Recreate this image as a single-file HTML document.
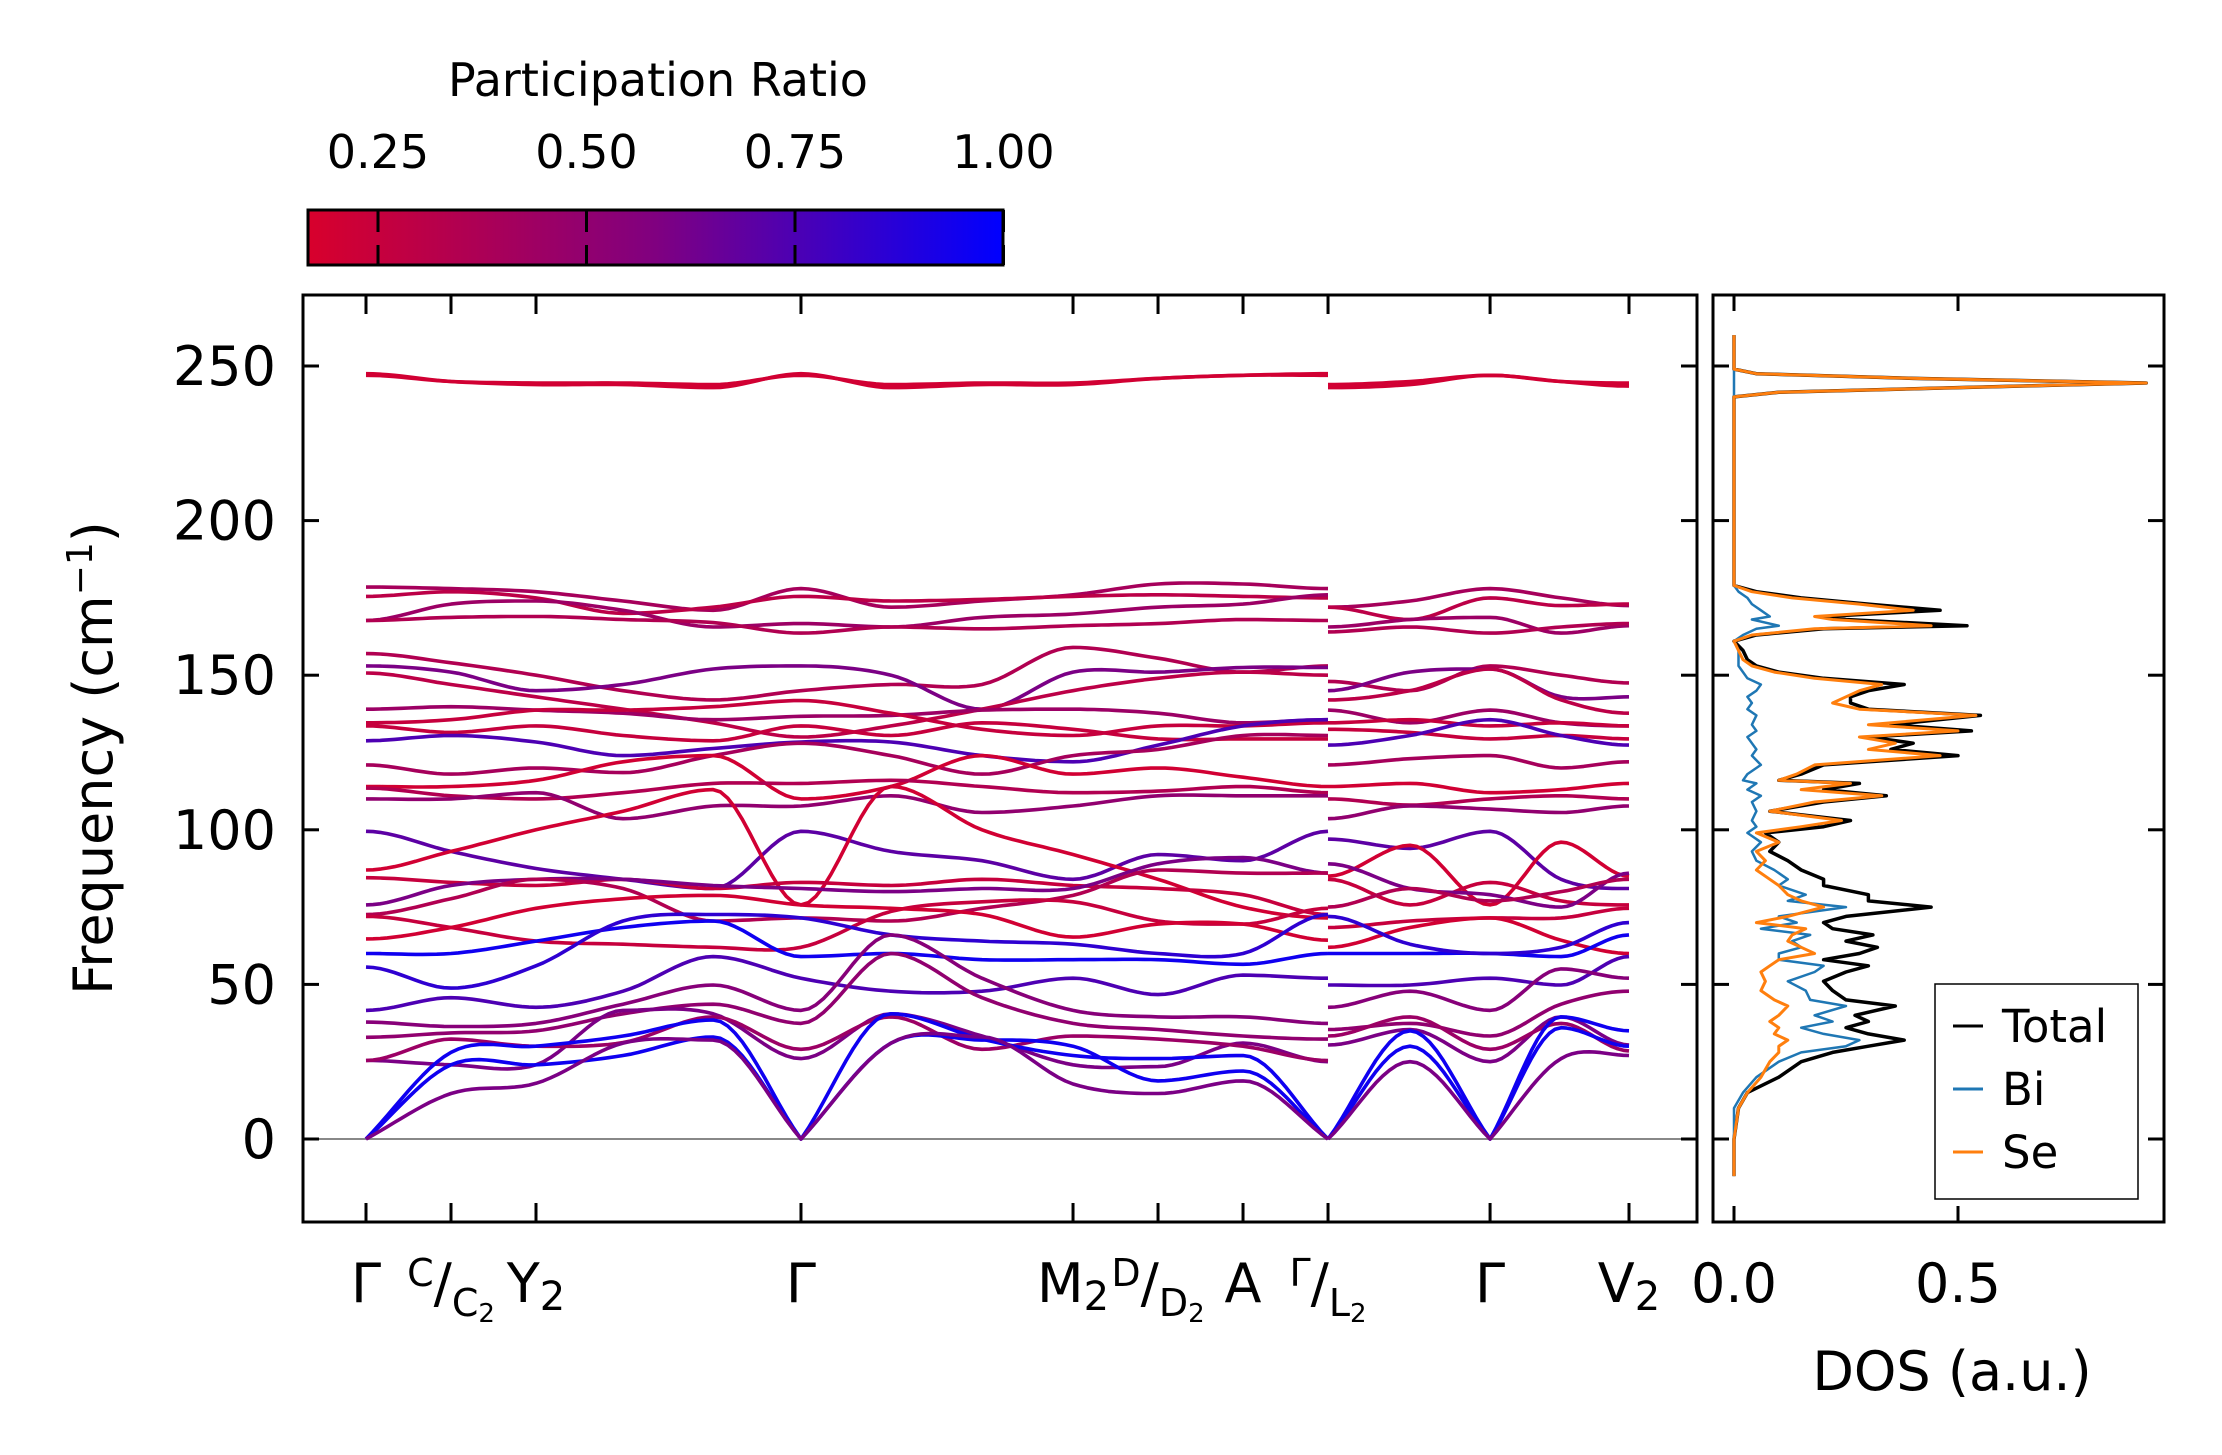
<!DOCTYPE html>
<html><head><meta charset="utf-8"><style>
html,body{margin:0;padding:0;background:#fff;}
svg{display:block;font-family:"DejaVu Sans","Liberation Sans",sans-serif;}
</style></head><body>
<svg id="chart" width="2222" height="1455" viewBox="0 0 2222 1455" xmlns="http://www.w3.org/2000/svg">
<defs>
<linearGradient id="cbg" x1="0" x2="1" y1="0" y2="0">
<stop offset="0" stop-color="rgb(216,0,44)"/>
<stop offset="0.5" stop-color="rgb(128,0,128)"/>
<stop offset="1" stop-color="rgb(0,0,255)"/>
</linearGradient>
<clipPath id="mainclip"><rect x="303" y="295" width="1394" height="927"/></clipPath>
<clipPath id="dosclip"><rect x="1713" y="295" width="451" height="927"/></clipPath>
</defs>
<g id="colorbar">
<text x="658" y="96" font-size="46" text-anchor="middle">Participation Ratio</text>
<rect x="308" y="210" width="695" height="55" fill="url(#cbg)" stroke="#000" stroke-width="3"/>
</g>
<g id="main">
<line x1="303" x2="1697" y1="1139" y2="1139" stroke="#888" stroke-width="2"/>
<g id="bands" clip-path="url(#mainclip)"></g>
<rect x="303" y="295" width="1394" height="927" fill="none" stroke="#000" stroke-width="3"/>
<g id="mainticks"></g>
<text transform="translate(112,758) rotate(-90)" font-size="54" text-anchor="middle">Frequency (cm<tspan dy="-20" font-size="36">−1</tspan><tspan dy="20">)</tspan></text>
</g>
<g id="dos">
<g id="doslines" clip-path="url(#dosclip)"></g>
<rect x="1713" y="295" width="451" height="927" fill="none" stroke="#000" stroke-width="3"/>
<g id="dosticks"></g>
<text x="1952" y="1390" font-size="54" text-anchor="middle">DOS (a.u.)</text>
<g>
<rect x="1935" y="984" width="203" height="215" fill="#fff" stroke="#000" stroke-width="1.5"/>
<line x1="1953" x2="1983" y1="1026" y2="1026" stroke="#000" stroke-width="3"/>
<text x="2002" y="1042" font-size="45">Total</text>
<line x1="1953" x2="1983" y1="1089" y2="1089" stroke="#1f77b4" stroke-width="3"/>
<text x="2002" y="1105" font-size="45">Bi</text>
<line x1="1953" x2="1983" y1="1152" y2="1152" stroke="#ff7f0e" stroke-width="3"/>
<text x="2002" y="1168" font-size="45">Se</text>
</g>
</g>
</svg>
<script>
// ---------- data ----------
const yTicks = [0, 50, 100, 150, 200, 250];
const cbTicks = [0.25, 0.50, 0.75, 1.00];
const cbTickLabels = ["0.25", "0.50", "0.75", "1.00"];
const dosTicks = [0.0, 0.5];
const dosTickLabels = ["0.0", "0.5"];
const kNodes = [0, 0.0673, 0.1346, 0.3444, 0.5598, 0.6271, 0.6944, 0.7617, 0.8900, 1.0];
const kA = [0, 0.0673, 0.1346, 0.2035, 0.2748, 0.3444, 0.4157, 0.4877, 0.5598, 0.6271, 0.6944, 0.7617];
const kB = [0.7617, 0.8266, 0.8900, 0.9462, 1.0];
const bandPR = [0.2,0.2,0.4,0.3,0.45,0.35,0.35,0.6,0.3,0.45,0.25,0.25,0.75,0.4,0.2,0.35,0.5,0.7,0.2,0.25,0.6,0.35,0.25,0.2,0.95,0.85,0.75,0.55,0.5,0.6,0.45,0.95,0.95,0.6];
const bandsA = [
[247.5,245,244,244,243,247.5,243,244,244,246,247,247.5],
[247,245,244.5,244.5,244,247,244,244.5,244.5,246,247,247],
[178.5,178,177,174,171,178,172,174,176,179.5,179.5,178],
[175.5,177,175,170,172,175.5,174,174.5,175.5,176,175.5,175],
[167.7,173,174,171,165.6,166.7,165.6,168.7,169.8,172,173,176],
[167.7,168.7,169,168,167,163.6,165.6,165,166,166.7,168,167.7],
[157,154,150,145,142,145,147,147,159,155.5,151,153],
[153,151,145,147,152,153,150,139,151,151,152.5,152.5],
[150.7,147,143,139,134.6,130,133.6,139,145,149,151,150],
[139,139.8,138.7,137.7,135.6,136.7,137,138.7,139,137.7,134.6,135.6],
[134.6,135.6,138.7,138.7,139.8,141.8,137.7,132.5,130.5,133.6,133.6,134.6],
[133.6,131.5,133.6,130.5,128.8,133.6,130.5,134.6,132.5,129.4,129.4,129.4],
[128.8,130.5,128.4,124,126.3,128.4,128.4,124,122,127.4,133.6,135.6],
[121,118,120,118.5,124,128,124,118,124,126,130.5,130.5],
[114,114,116,122,124,110,114,124,118,120,117,114],
[113.5,111,110,112,115,115,116,114,112,112.5,114,112],
[110,110,112,103.6,107.7,107.7,111,105.6,107.7,111,111,111],
[99.5,93,87.5,84,81,99.5,93,90,84,92,90,99.5],
[87,93,100,106,113,75.7,114,100,92,84,75,71.5],
[84.5,83,82,84,81,83,82,84,82,81,79,72.6],
[75.7,82,84,84,82,81,80,81,81,89,91,86],
[72.6,77.7,84,81,70.5,71.5,70.5,74.6,78.8,87,86,86],
[72,68.4,64,63,62,62,73.6,76.7,76.7,70.5,69.5,74.6],
[64.7,68.4,74.6,77.7,78.8,75.7,74.6,72.6,65.3,69.5,69.5,64.3],
[60,60,64,68.4,70.5,59,60,58,58,58,56.5,60],
[55.6,48.8,56,70.5,72.6,71.5,66,64,63,60,60,72.6],
[41.6,45.7,42.6,47.8,59,52,47.8,47.8,52,46.7,53,52],
[37.8,36.4,37.4,43.6,49.8,41.6,66,52,41.6,39.5,39.5,37.4],
[32.9,34.3,35,40.5,43.6,37.4,60,45.7,37.4,35.4,33.3,32.3],
[25.4,24,24,41.6,40.5,26,40.5,33.3,24,23.4,31,25],
[25.4,32.3,30,31.2,39.5,29,39.5,29,33.3,32.3,30,25.4],
[0,28,30,33.3,38.5,0,40.5,32.3,27,26,27,0],
[0,24,24,27,33,0,31,32,30,18.8,22,0],
[0,14.7,18,31,32,0,31,33,17.8,14.7,18.8,0]
];
const bandsB = [
[243,244,247,245,243.5],
[244,245,247,245,244.5],
[172,174,178,175,172.5],
[172,168,175,172.5,173],
[165.6,168,168.7,163.6,166],
[164,165.6,163.6,165.6,166.7],
[148,145,153,150,147.5],
[145,151,152,143,143],
[142,145,152,142,137.7],
[138.7,134.6,138.7,134.6,133.6],
[134.6,135.6,133.6,134.6,133.6],
[132.5,131.5,129.4,130.5,129.4],
[127.4,130.5,135.6,130.5,127.4],
[121,123,124,120,122],
[114,115,112,113,115],
[110,108,110,111,110],
[103.6,107.7,106.7,105.6,107.7],
[97,94,99.5,84,81],
[85,95,75.7,96,85],
[84,75.7,83,77,75.7],
[89,81,79,75,86],
[75,81,77,80,84],
[68.4,70.5,71.5,71.5,74.6],
[62,68.4,71.5,64.3,60],
[60,60,60,59,66],
[72,63,60,62,70],
[49.8,49.8,52,49.8,59],
[42.6,47.8,41.6,55,52],
[35.4,37.4,33.3,43.6,47.8],
[30.4,35.4,25,39.5,30.4],
[33.3,39.5,29,37.4,28.5],
[0,35,0,39.5,35],
[0,30,0,36,30],
[0,25,0,26,27]
];
const dosFreq = [-12,0,10,15,20,25,28,30,32,34, 36,38,40,43,45,48,51,54,56,58, 60,62,64,66,68,70,72,75,77,79, 82,84,87,90,93,96,99,101,103,106, 109,111,113,115,116,118,121,124,126,128, 130,132,134,137,139,141,143,145,147,149, 151,153,155,158,161,163,165,166,168,169, 171,173,175,177,179,181,200,240,241.5,243, 244.5,246,247.5,249,260];
const dosTotal = [0,0,.01,.03,.1,.15,.22,.3,.38,.3, .25,.3,.27,.36,.25,.22,.2,.25,.3,.2, .28,.32,.25,.31,.22,.2,.25,.44,.3,.3, .2,.2,.15,.12,.08,.1,.07,.2,.26,.08, .2,.34,.2,.28,.1,.15,.2,.5,.35,.4, .3,.53,.35,.55,.3,.26,.26,.3,.38,.2, .1,.05,.03,.02,0,.05,.2,.52,.25,.2, .46,.3,.15,.05,0,0,0,0,.1,.5, .92,.4,.05,0,0];
const dosSe = [0,0,.01,.03,.06,.08,.1,.1,.12,.09, .1,.08,.1,.12,.09,.06,.07,.06,.08,.1, .18,.15,.12,.13,.16,.05,.12,.2,.15,.12, .1,.08,.05,.07,.05,.1,.05,.15,.24,.08, .18,.33,.15,.26,.1,.14,.18,.46,.3,.36, .28,.5,.3,.54,.28,.22,.25,.28,.33,.18, .09,.04,.02,.01,0,.04,.18,.44,.22,.18, .4,.28,.13,.04,0,0,0,0,.1,.5, .92,.4,.05,0,0];
const dosBi = [0,0,0,.02,.05,.1,.15,.25,.28,.2, .15,.22,.18,.25,.17,.16,.12,.18,.2,.1, .1,.15,.13,.17,.06,.14,.1,.25,.12,.16, .1,.12,.09,.05,.04,.06,.03,.05,.04,.05, .04,.06,.03,.05,.02,.03,.06,.04,.05,.04, .03,.05,.04,.05,.03,.04,.03,.05,.06,.03, .02,.01,.01,.01,0,.02,.05,.1,.04,.08, .06,.04,.03,.01,0,0,0,0,0,0, 0,0,0,0,0];

// ---------- scales ----------
const NS = "http://www.w3.org/2000/svg";
function yS(f){ return 1139 - f*3.092; }
function xS(k){ return 366 + k*1263; }
function dosX(v){ return 1734 + v*448; }
function cbX(p){ return 378 + (p-0.25)*834; }
function prColor(p){
  const t = Math.max(0, Math.min(1, (p-0.165)/(1-0.165)));
  let r,g,b;
  if (t<0.5){ const u=t/0.5; r=216+(128-216)*u; g=0; b=44+(128-44)*u; }
  else { const u=(t-0.5)/0.5; r=128*(1-u); g=0; b=128+127*u; }
  return `rgb(${Math.round(r)},${Math.round(g)},${Math.round(b)})`;
}
function mk(tag, attrs, parent){
  const e = document.createElementNS(NS, tag);
  for (const k in attrs) e.setAttribute(k, attrs[k]);
  parent.appendChild(e); return e;
}
function bandPath(ks, vs){
  const n = vs.length, m = [];
  for (let i=0;i<n;i++){
    let ml, mr;
    const sl = i>0 ? (vs[i]-vs[i-1])/(ks[i]-ks[i-1]) : null;
    const sr = i<n-1 ? (vs[i+1]-vs[i])/(ks[i+1]-ks[i]) : null;
    if (vs[i]===0){ ml = sl===null?0:sl; mr = sr===null?0:sr; }
    else if (sl===null || sr===null){ ml=mr=0; }
    else { ml = mr = (sl+sr)/2; if (sl*sr<0) ml=mr=0; }
    m.push([ml,mr]);
  }
  let d = `M${xS(ks[0]).toFixed(1)},${yS(vs[0]).toFixed(1)}`;
  for (let i=0;i<n-1;i++){
    const h = ks[i+1]-ks[i];
    for (let s=1;s<=12;s++){
      const t=s/12, t2=t*t, t3=t2*t;
      const v = (2*t3-3*t2+1)*vs[i] + (t3-2*t2+t)*h*m[i][1] + (-2*t3+3*t2)*vs[i+1] + (t3-t2)*h*m[i+1][0];
      d += `L${xS(ks[i]+t*h).toFixed(1)},${yS(v).toFixed(1)}`;
    }
  }
  return d;
}

// ---------- bands ----------
const gB = document.getElementById('bands');
for (let b=0;b<bandsA.length;b++){
  const col = prColor(bandPR[b]);
  const p1 = mk('path', {d: bandPath(kA, bandsA[b]), fill:'none', stroke: col, 'stroke-width': 3.6, 'stroke-linejoin':'round'}, gB);
  
  
  const p2 = mk('path', {d: bandPath(kB, bandsB[b]), fill:'none', stroke: col, 'stroke-width': 3.6, 'stroke-linejoin':'round'}, gB);
  
  
}

// ---------- main ticks ----------
const gT = document.getElementById('mainticks');
yTicks.forEach(t=>{
  const y = yS(t);
  mk('line',{x1:303,x2:319,y1:y,y2:y,stroke:'#000','stroke-width':3},gT);
  mk('line',{x1:1681,x2:1697,y1:y,y2:y,stroke:'#000','stroke-width':3},gT);
  const tx = mk('text',{x:276,y:y+19,'font-size':54,'text-anchor':'end'},gT);
  tx.textContent = String(t);
  
  
});
kNodes.forEach(k=>{
  const x = xS(k);
  mk('line',{x1:x,x2:x,y1:295,y2:314,stroke:'#000','stroke-width':3},gT);
  mk('line',{x1:x,x2:x,y1:1203,y2:1222,stroke:'#000','stroke-width':3},gT);
});
const xl = [
  {k:0, html:'Γ'},
  {k:0.0673, html:'<tspan font-size="38" dy="-16">C</tspan><tspan dy="16">/</tspan><tspan font-size="38" dy="14">C</tspan><tspan font-size="26" dy="6">2</tspan>'},
  {k:0.1346, html:'Y<tspan font-size="40" dy="8">2</tspan>'},
  {k:0.3444, html:'Γ'},
  {k:0.5598, html:'M<tspan font-size="40" dy="8">2</tspan>'},
  {k:0.6271, html:'<tspan font-size="38" dy="-16">D</tspan><tspan dy="16">/</tspan><tspan font-size="38" dy="14">D</tspan><tspan font-size="26" dy="6">2</tspan>'},
  {k:0.6944, html:'A'},
  {k:0.7617, html:'<tspan font-size="38" dy="-16">Γ</tspan><tspan dy="16">/</tspan><tspan font-size="38" dy="14">L</tspan><tspan font-size="26" dy="6">2</tspan>'},
  {k:0.8900, html:'Γ'},
  {k:1.0, html:'V<tspan font-size="40" dy="8">2</tspan>'}
];
xl.forEach(o=>{
  const t = mk('text',{x:xS(o.k),y:1302,'font-size':54,'text-anchor':'middle'},gT);
  t.innerHTML = o.html;
  
  
});

// ---------- colorbar ticks ----------
const cb = document.getElementById('colorbar');
cbTicks.forEach((p,i)=>{
  const x = cbX(p);
  mk('line',{x1:x,x2:x,y1:210,y2:265,stroke:'#000','stroke-width':3,'stroke-dasharray':'22,13'},cb);
  const t = mk('text',{x:x,y:168,'font-size':46,'text-anchor':'middle'},cb);
  t.textContent = cbTickLabels[i];
  
  
});

// ---------- DOS ----------
const gD = document.getElementById('dosticks');
yTicks.forEach(t=>{
  const y = yS(t);
  mk('line',{x1:1713,x2:1729,y1:y,y2:y,stroke:'#000','stroke-width':3},gD);
  mk('line',{x1:2148,x2:2164,y1:y,y2:y,stroke:'#000','stroke-width':3},gD);
});
dosTicks.forEach((v,i)=>{
  const x = dosX(v);
  mk('line',{x1:x,x2:x,y1:295,y2:311,stroke:'#000','stroke-width':3},gD);
  mk('line',{x1:x,x2:x,y1:1206,y2:1222,stroke:'#000','stroke-width':3},gD);
  const t = mk('text',{x:x,y:1302,'font-size':54,'text-anchor':'middle'},gD);
  t.textContent = dosTickLabels[i];
  
  
});
const gL = document.getElementById('doslines');
function dosLine(vals, col, w, name){
  const pts = vals.map((v,i)=>`${dosX(v).toFixed(1)},${yS(dosFreq[i]).toFixed(1)}`).join(' ');
  const pl = mk('polyline',{points:pts,fill:'none',stroke:col,'stroke-width':w,'stroke-linejoin':'round'},gL);
  
  
}
dosLine(dosTotal,'#000',3.5,'dos-total-line');
dosLine(dosBi,'#1f77b4',2.5,'dos-bi-line');
dosLine(dosSe,'#ff7f0e',3,'dos-se-line');
</script>
</body></html>
